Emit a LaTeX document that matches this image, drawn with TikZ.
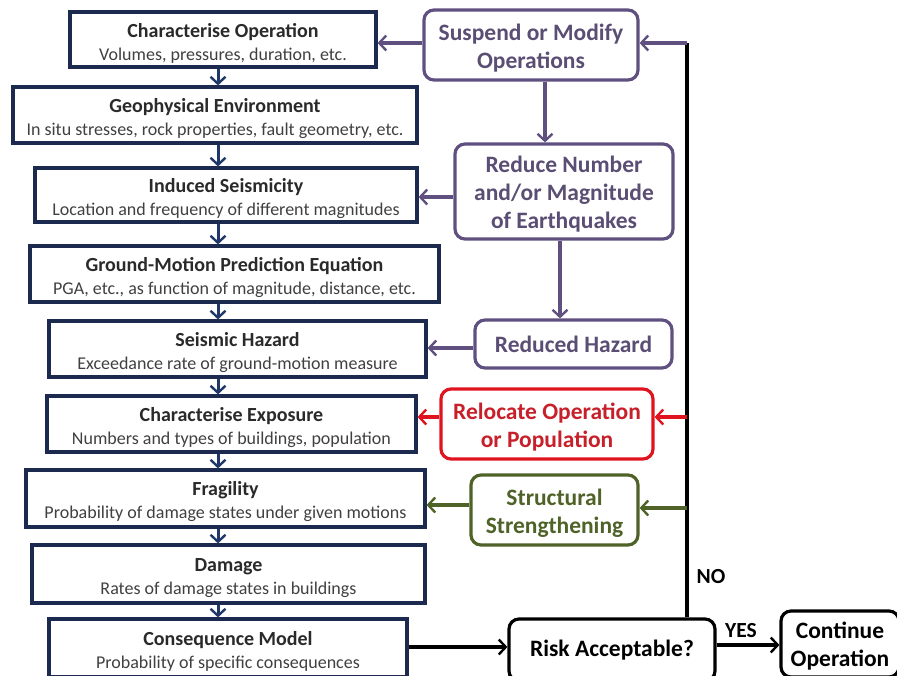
\documentclass[tikz,border=0pt]{standalone}
\usepackage{fontspec}
\setmainfont{Carlito}
\usetikzlibrary{arrows.meta}

\definecolor{boxnavy}{HTML}{1C2A4F}
\definecolor{arrnavy}{HTML}{1F3868}
\definecolor{titletext}{HTML}{2A2A2A}
\definecolor{subtext}{HTML}{404040}
\definecolor{purp}{HTML}{5F5080}
\definecolor{purptext}{HTML}{5A4E74}
\definecolor{redbox}{HTML}{E0141E}
\definecolor{redtext}{HTML}{C8202A}
\definecolor{olive}{HTML}{4F6228}

\tikzset{
  lbox/.style={draw=boxnavy, line width=3.2pt, fill=white, align=center,
    inner sep=0pt, text=subtext, font=\fontsize{18}{23}\selectfont},
  rbox/.style={draw=#1, line width=3.2pt, rounded corners=10pt, fill=white,
    align=center, inner sep=0pt, font=\bfseries\fontsize{23.5}{28}\selectfont},
  barb/.style={-{Straight Barb[length=7pt,width=15pt,line width=2.4pt]}},
  navyarr/.style={barb, draw=arrnavy, line width=3pt},
  conn/.style={barb, draw=#1, line width=3.2pt},
  lbl/.style={font=\bfseries\fontsize{21.5}{24}\selectfont, text=black, inner sep=0pt}
}
% title line of a model box (the strut sets the text a little lower)
\newcommand{\ttl}[1]{{\rule{0pt}{21pt}\bfseries\color{titletext}\fontsize{20}{23}\selectfont #1}}
% strut for the first line of a multi-line option box
\newcommand{\fl}{\rule{0pt}{22.5pt}}

\begin{document}
\begin{tikzpicture}[x=1pt, y=-1pt]
\useasboundingbox (0,0) rectangle (897,675);
\clip (0,0) rectangle (897,675);

% main chain of the risk model
\node[lbox, minimum width=306, minimum height=55] (co) at (223,39.5)
  {\ttl{Characterise Operation}\\Volumes, pressures, duration, etc.};
\node[lbox, minimum width=404, minimum height=56] (ge) at (215,115)
  {\ttl{Geophysical Environment}\\In situ stresses, rock properties, fault geometry, etc.};
\node[lbox, minimum width=382, minimum height=54] (is) at (226,195)
  {\ttl{Induced Seismicity}\\Location and frequency of different magnitudes};
\node[lbox, minimum width=409, minimum height=56] (gm) at (234.5,274)
  {\ttl{Ground-Motion Prediction Equation}\\PGA, etc., as function of magnitude, distance, etc.};
\node[lbox, minimum width=377, minimum height=56] (sh) at (237.5,349)
  {\ttl{Seismic Hazard}\\Exceedance rate of ground-motion measure};
\node[lbox, minimum width=369, minimum height=56] (ce) at (231.5,424)
  {\ttl{Characterise Exposure}\\Numbers and types of buildings, population};
\node[lbox, minimum width=399, minimum height=57] (fr) at (225.5,498.5)
  {\ttl{Fragility}\\Probability of damage states under given motions};
\node[lbox, minimum width=393, minimum height=58] (dm) at (228.5,574)
  {\ttl{Damage}\\Rates of damage states in buildings};
\node[lbox, minimum width=358, minimum height=58] (cm) at (228,648)
  {\ttl{Consequence Model}\\Probability of specific consequences};

% mitigation options
\node[rbox=purp, text=purptext, minimum width=214, minimum height=70] (so) at (531,45)
  {\fl Suspend or Modify\\Operations};
\node[rbox=purp, text=purptext, minimum width=218, minimum height=95] (rn) at (564,191.5)
  {\fl Reduce Number\\and/or Magnitude\\of Earthquakes};
\node[rbox=purp, text=purptext, minimum width=197, minimum height=48] (rh) at (573.5,344)
  {Reduced Hazard};
\node[rbox=redbox, text=redtext, minimum width=212, minimum height=70] (ro) at (547,424)
  {\fl Relocate Operation\\or Population};
\node[rbox=olive, text=olive, minimum width=167, minimum height=70] (ss) at (554.5,510)
  {\fl Structural\\Strengthening};

% decision
\node[rbox=black, text=black, minimum width=206, minimum height=62] (ra) at (612,650)
  {Risk Acceptable?};
\node[rbox=black, text=black, minimum width=118, minimum height=66] (cop) at (840,644)
  {\rule{0pt}{20.5pt}Continue\\Operation};

% chain arrows
\coordinate (ax) at (218,0);
\draw[navyarr] (co.south -| ax) -- (ge.north -| ax);
\draw[navyarr] (ge.south -| ax) -- (is.north -| ax);
\draw[navyarr] (is.south -| ax) -- (gm.north -| ax);
\draw[navyarr] (gm.south -| ax) -- (sh.north -| ax);
\draw[navyarr] (sh.south -| ax) -- (ce.north -| ax);
\draw[navyarr] (ce.south -| ax) -- (fr.north -| ax);
\draw[navyarr] (fr.south -| ax) -- (dm.north -| ax);
\draw[navyarr] (dm.south -| ax) -- (cm.north -| ax);

% feedback loop
\coordinate (bus) at (687,43);
\draw[line width=3.4pt, black] (ra.north -| bus) -- (bus);
\draw[conn=purp] (bus) -- (so.east |- bus);
\draw[conn=purp] (so.west |- 0,43) -- (co.east |- 0,43);
\draw[conn=purp] (so.south -| 545,0) -- (rn.north -| 545,0);
\draw[conn=purp] (rn.west |- 0,197) -- (is.east |- 0,197);
\draw[conn=purp] (rn.south -| 560,0) -- (rh.north -| 560,0);
\draw[conn=purp] (rh.west |- 0,348) -- (sh.east |- 0,348);
\draw[conn=redbox] (bus |- 0,417) -- (ro.east |- 0,417);
\draw[conn=redbox] (ro.west |- 0,417) -- (ce.east |- 0,417);
\draw[conn=olive] (bus |- 0,508) -- (ss.east |- 0,508);
\draw[conn=olive] (ss.west |- 0,505) -- (fr.east |- 0,505);

% decision flow
\draw[conn=black] (cm.east |- 0,647) -- (ra.west |- 0,647);
\draw[conn=black] (ra.east |- 0,645) -- (cop.west |- 0,645);
\node[lbl] (no) at (711,577) {NO};
\node[lbl] (yes) at (741,631) {YES};
\end{tikzpicture}
\end{document}
